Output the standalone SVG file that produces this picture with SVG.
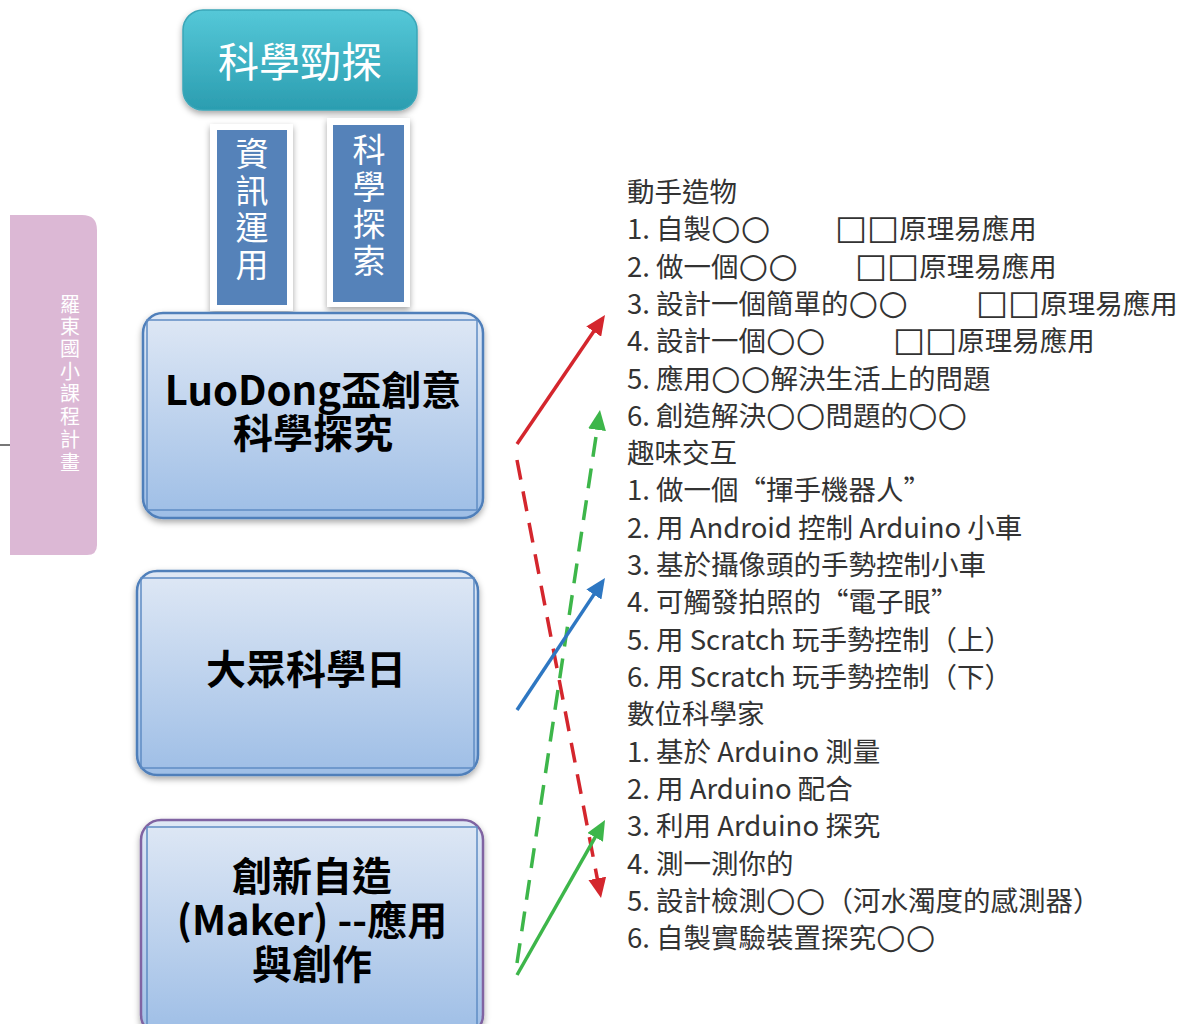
<svg xmlns="http://www.w3.org/2000/svg" width="1181" height="1024" viewBox="0 0 1181 1024">
<defs>
<style>
.cjk{font-family:"Noto Sans CJK TC","Noto Sans CJK SC",sans-serif;}
.node{font-family:"Noto Sans CJK TC","Noto Sans CJK SC",sans-serif;font-weight:bold;font-size:40px;fill:#000;text-anchor:middle;}
.vt{font-family:"Noto Sans CJK TC",sans-serif;font-size:33px;fill:#fff;text-anchor:middle;}
.list{font-family:"Noto Sans CJK TC","Noto Sans CJK SC",sans-serif;font-size:27.5px;fill:#333;}
.sym{font-family:"DejaVu Sans",sans-serif;font-size:34px;}
.box{fill:url(#gBlue);stroke:#4f7fba;stroke-width:2.5;}
.inner{fill:none;stroke:#5f8cc4;stroke-width:1.5;}
.conn{fill:none;stroke-width:3.5;}
</style>
<linearGradient id="gBlue" x1="0" y1="0" x2="0" y2="1">
<stop offset="0" stop-color="#dfe8f5"/>
<stop offset="1" stop-color="#9ebee6"/>
</linearGradient>
<linearGradient id="gTeal" x1="0" y1="0" x2="0" y2="1">
<stop offset="0" stop-color="#55c8d8"/>
<stop offset="1" stop-color="#2b9db0"/>
</linearGradient>
<filter id="sh" x="-10%" y="-10%" width="120%" height="130%">
<feDropShadow dx="0" dy="3" stdDeviation="3" flood-color="#000" flood-opacity="0.35"/>
</filter>
<marker id="aRed" markerUnits="userSpaceOnUse" markerWidth="20" markerHeight="18" refX="6" refY="9" orient="auto"><path d="M0,0 L20,9 L0,18 z" fill="#d4262d"/></marker>
<marker id="aGreen" markerUnits="userSpaceOnUse" markerWidth="20" markerHeight="18" refX="6" refY="9" orient="auto"><path d="M0,0 L20,9 L0,18 z" fill="#3db64a"/></marker>
<marker id="aBlue" markerUnits="userSpaceOnUse" markerWidth="20" markerHeight="18" refX="6" refY="9" orient="auto"><path d="M0,0 L20,9 L0,18 z" fill="#2e77c2"/></marker>
</defs>
<rect width="1181" height="1024" fill="#fff"/>

<g id="sidebar">
<line x1="0" y1="445" x2="11" y2="445" stroke="#777" stroke-width="2"/>
<path d="M10,215 H82 Q97,215 97,230 V545 Q97,555 87,555 H10 Z" fill="#dcb8d5"/>
<g class="cjk" fill="#fff" font-size="20" text-anchor="middle">
<text x="70" y="312">羅</text><text x="70" y="334">東</text><text x="70" y="356">國</text><text x="70" y="379">小</text><text x="70" y="401">課</text><text x="70" y="424">程</text><text x="70" y="447">計</text><text x="70" y="470">畫</text>
</g>
</g>

<g id="top">
<rect x="183" y="10" width="234" height="100" rx="20" fill="url(#gTeal)" stroke="#3aa6b8" stroke-width="1.5" filter="url(#sh)"/>
<text x="300" y="77" class="cjk" font-size="41" fill="#fff" text-anchor="middle">科學勁探</text>
</g>

<g id="info">
<rect x="210" y="124" width="83" height="187" fill="#fff" filter="url(#sh)"/>
<rect x="217" y="130" width="70" height="175" fill="#5582b9"/>
<text class="vt" x="252" y="166">資</text><text class="vt" x="252" y="203">訊</text><text class="vt" x="252" y="240">運</text><text class="vt" x="252" y="277">用</text>
</g>

<g id="sci">
<rect x="327" y="118" width="83" height="189" fill="#fff" filter="url(#sh)"/>
<rect x="333" y="125" width="71" height="177" fill="#5582b9"/>
<text class="vt" x="369" y="162">科</text><text class="vt" x="369" y="199">學</text><text class="vt" x="369" y="236">探</text><text class="vt" x="369" y="273">索</text>
</g>

<g id="luodong">
<rect class="box" x="143" y="313" width="340" height="205" rx="20" filter="url(#sh)"/>
<rect class="inner" x="147" y="320" width="330" height="190"/>
<text class="node" x="313" y="405">LuoDong盃創意</text>
<text class="node" x="313" y="448">科學探究</text>
</g>

<g id="dazhong">
<rect class="box" x="137" y="571" width="341" height="204" rx="20" filter="url(#sh)"/>
<rect class="inner" x="141" y="578" width="333" height="190"/>
<text class="node" x="306" y="684">大眾科學日</text>
</g>

<g id="maker">
<rect x="141" y="820" width="342" height="215" rx="20" fill="url(#gBlue)" stroke="#8064a2" stroke-width="2.5" filter="url(#sh)"/>
<rect class="inner" x="147" y="827" width="330" height="200"/>
<text class="node" x="312" y="891">創新自造</text>
<text class="node" x="312" y="935">(Maker) --應用</text>
<text class="node" x="312" y="979">與創作</text>
</g>

<g id="connectors">
<line class="conn" x1="517" y1="444" x2="597.1" y2="326.6" stroke="#d4262d" marker-end="url(#aRed)"/>
<line class="conn" x1="517" y1="460" x2="598.4" y2="884.3" stroke="#d4262d" stroke-dasharray="20 12" marker-end="url(#aRed)"/>
<line class="conn" x1="517" y1="963" x2="597.9" y2="423.8" stroke="#3db64a" stroke-dasharray="20 12" marker-end="url(#aGreen)"/>
<line class="conn" x1="517" y1="710" x2="597.2" y2="589.6" stroke="#2e77c2" marker-end="url(#aBlue)"/>
<line class="conn" x1="517" y1="975" x2="598.1" y2="832.2" stroke="#3db64a" marker-end="url(#aGreen)"/>
</g>

<g id="list" class="list">
<text x="627" y="202">動手造物</text>
<text x="627" y="239">1. 自製<tspan class="sym">○○</tspan><tspan x="835" class="sym">□□</tspan>原理易應用</text>
<text x="627" y="277">2. 做一個<tspan class="sym">○○</tspan><tspan x="855" class="sym">□□</tspan>原理易應用</text>
<text x="627" y="314">3. 設計一個簡單的<tspan class="sym">○○</tspan><tspan x="976" class="sym">□□</tspan>原理易應用</text>
<text x="627" y="351">4. 設計一個<tspan class="sym">○○</tspan><tspan x="893" class="sym">□□</tspan>原理易應用</text>
<text x="627" y="389">5. 應用<tspan class="sym">○○</tspan>解決生活上的問題</text>
<text x="627" y="426">6. 創造解決<tspan class="sym">○○</tspan>問題的<tspan class="sym">○○</tspan></text>
<text x="627" y="463">趣味交互</text>
<text x="627" y="500">1. 做一個“揮手機器人”</text>
<text x="627" y="538">2. 用 Android 控制 Arduino 小車</text>
<text x="627" y="575">3. 基於攝像頭的手勢控制小車</text>
<text x="627" y="612">4. 可觸發拍照的“電子眼”</text>
<text x="627" y="650">5. 用 Scratch 玩手勢控制（上）</text>
<text x="627" y="687">6. 用 Scratch 玩手勢控制（下）</text>
<text x="627" y="724">數位科學家</text>
<text x="627" y="762">1. 基於 Arduino 測量</text>
<text x="627" y="799">2. 用 Arduino 配合</text>
<text x="627" y="836">3. 利用 Arduino 探究</text>
<text x="627" y="874">4. 測一測你的</text>
<text x="627" y="911">5. 設計檢測<tspan class="sym">○○</tspan>（河水濁度的感測器）</text>
<text x="627" y="948">6. 自製實驗裝置探究<tspan class="sym">○○</tspan></text>
</g>
</svg>
